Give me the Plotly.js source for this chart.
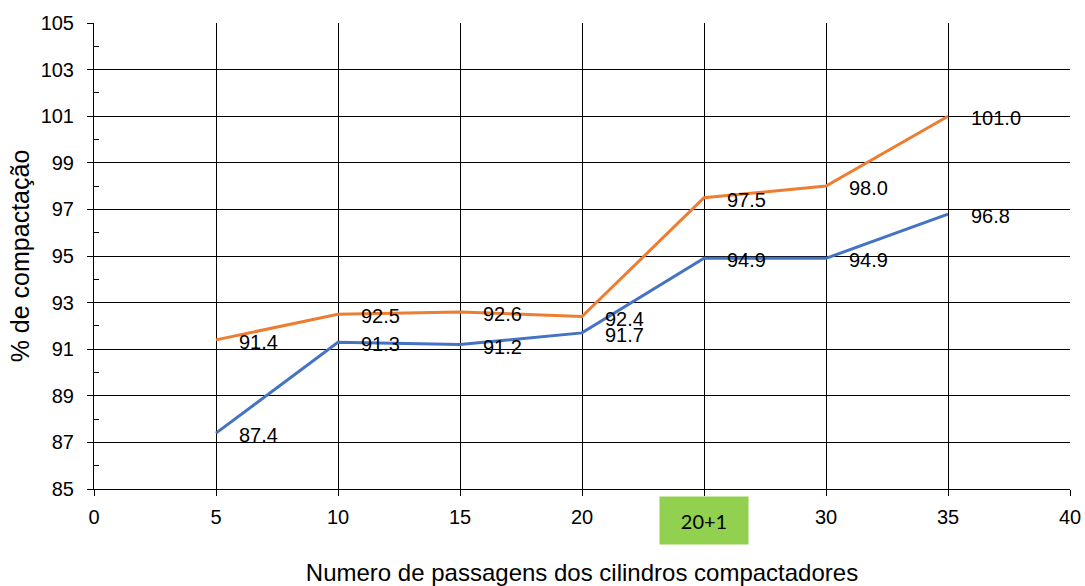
<!DOCTYPE html>
<html><head><meta charset="utf-8">
<script src="https://cdn.plot.ly/plotly-3.0.1.min.js"></script>
<style>html,body{margin:0;padding:0;background:#fff}</style>
</head><body>
<div id="chart" style="width:1085px;height:586px"></div>
<script>
const passes = [5, 10, 15, 20, 25, 30, 35];
const seriesBlue = [87.4, 91.3, 91.2, 91.7, 94.9, 94.9, 96.8];
const seriesOrange = [91.4, 92.5, 92.6, 92.4, 97.5, 98.0, 101.0];
const xTickVals = [0, 5, 10, 15, 20, 25, 30, 35, 40];
const xTickText = ['0', '5', '10', '15', '20', '', '30', '35', '40'];
const specialTickX = 25;
const specialTickLabel = '20+1';
const yTitle = '% de compactação';
const xTitle = 'Numero de passagens dos cilindros compactadores';

const font = 'Liberation Sans, Arial, sans-serif';
const traces = [
  {x: passes, y: seriesBlue, type: 'scatter', mode: 'lines', line: {color: '#4472C4', width: 3}, hoverinfo: 'skip'},
  {x: passes, y: seriesOrange, type: 'scatter', mode: 'lines', line: {color: '#ED7D31', width: 3}, hoverinfo: 'skip'}
];
const annotations = [];
function addLabels(ys) {
  passes.forEach((x, i) => {
    annotations.push({x: x, y: ys[i], xref: 'x', yref: 'y', text: ys[i].toFixed(1),
      showarrow: false, xanchor: 'left', yanchor: 'middle', xshift: 21, yshift: -2,
      font: {family: font, size: 20, color: '#000'}});
  });
}
addLabels(seriesBlue);
addLabels(seriesOrange);
annotations.push({x: specialTickX, y: 0, xref: 'x', yref: 'paper', text: specialTickLabel,
  showarrow: false, xanchor: 'center', yanchor: 'top', yshift: -7,
  bgcolor: '#92D050', width: 80, height: 39, borderpad: 4,
  font: {family: 'Lato, Carlito, sans-serif', size: 20, color: '#000'}});

const layout = {
  width: 1085, height: 586,
  margin: {l: 94, r: 15, t: 23, b: 97},
  paper_bgcolor: '#fff', plot_bgcolor: '#fff',
  showlegend: false,
  font: {family: font, size: 20, color: '#000'},
  xaxis: {
    range: [0, 40], tickvals: xTickVals, ticktext: xTickText,
    showgrid: true, gridcolor: '#000', gridwidth: 1,
    showline: true, linecolor: '#000', linewidth: 1,
    ticks: 'outside', ticklen: 6, tickcolor: '#000', ticklabelstandoff: 4,
    zeroline: false, fixedrange: true,
    tickfont: {family: font, size: 20, color: '#000'},
    title: {text: xTitle, font: {family: font, size: 24, color: '#000'}, standoff: 38}
  },
  yaxis: {
    range: [85, 105], tick0: 85, dtick: 2,
    showgrid: true, gridcolor: '#000', gridwidth: 1,
    showline: true, linecolor: '#000', linewidth: 1,
    ticks: 'outside', ticklen: 6, tickcolor: '#000', ticklabelstandoff: 9,
    minor: {tick0: 86, dtick: 2, ticks: 'inside', ticklen: 5, tickcolor: '#000', showgrid: false},
    zeroline: false, fixedrange: true,
    tickfont: {family: font, size: 20, color: '#000'},
    title: {text: yTitle, font: {family: font, size: 25, color: '#000'}, standoff: 3}
  },
  annotations: annotations
};
Plotly.newPlot('chart', traces, layout, {staticPlot: true, displayModeBar: false});
</script>
</body></html>
